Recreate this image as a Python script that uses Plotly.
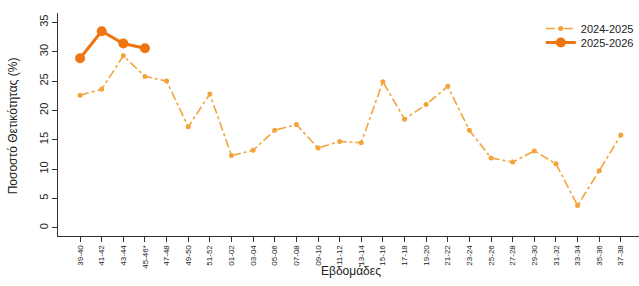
import plotly.graph_objects as go

weeks = ["39-40", "41-42", "43-44", "45-46*", "47-48", "49-50", "51-52", "01-02", "03-04",
         "05-06", "07-08", "09-10", "11-12", "13-14", "15-16", "17-18", "19-20", "21-22",
         "23-24", "25-26", "27-28", "29-30", "31-32", "33-34", "35-36", "37-38"]
s2024 = [22.6, 23.6, 29.3, 25.8, 25.0, 17.2, 22.8, 12.3, 13.2, 16.6, 17.6, 13.6, 14.7,
         14.5, 24.9, 18.5, 21.0, 24.1, 16.6, 11.9, 11.2, 13.1, 10.9, 3.8, 9.7, 15.8]
s2025 = [28.9, 33.5, 31.4, 30.6]
yticks = [0, 5, 10, 15, 20, 25, 30, 35]

xi = list(range(len(weeks)))

fig = go.Figure()
fig.add_trace(go.Scatter(
    x=xi, y=s2024, name="2024-2025", mode="lines+markers", legend="legend",
    line=dict(color="#F2A43A", width=1.6, dash="dashdot"),
    marker=dict(color="#F2A43A", size=5)))
fig.add_trace(go.Scatter(
    x=xi[:len(s2025)], y=s2025, name="2025-2026", mode="lines+markers", legend="legend2",
    line=dict(color="#F07410", width=3),
    marker=dict(color="#F07410", size=10)))

leg_common = dict(xanchor="left", yanchor="top", bgcolor="rgba(0,0,0,0)",
                  font=dict(size=11, color="#222"), itemwidth=30)

fig.update_layout(
    width=639, height=286,
    margin=dict(l=58, r=0, t=13, b=50),
    paper_bgcolor="white", plot_bgcolor="white",
    font=dict(family="Liberation Sans, Arial, sans-serif", color="#222"),
    showlegend=True,
    legend=dict(x=0.831, y=0.9955, **leg_common),
    legend2=dict(x=0.831, y=0.9327, **leg_common),
    xaxis=dict(range=[-1.02, 25.84], tickmode="array", tickvals=xi, ticktext=weeks,
               tickangle=-90, tickfont=dict(size=8), ticks="outside", ticklen=5,
               tickcolor="#333", showline=True, linecolor="#333", linewidth=1,
               showgrid=False, zeroline=False),
    yaxis=dict(range=[-1.4, 36.6], tickmode="array", tickvals=yticks,
               ticktext=[str(v) for v in yticks], tickangle=-90,
               tickfont=dict(size=11), ticks="outside", ticklen=5, tickcolor="#333",
               showline=True, linecolor="#333", linewidth=1, showgrid=False,
               zeroline=False),
    annotations=[
        dict(text="Εβδομάδες", xref="paper", yref="paper", x=0.504, y=-0.158,
             showarrow=False, font=dict(size=12), xanchor="center", yanchor="middle"),
        dict(text="Ποσοστό Θετικότητας (%)", xref="paper", yref="paper", x=-0.077, y=0.493,
             showarrow=False, font=dict(size=12), textangle=-90,
             xanchor="center", yanchor="middle"),
    ],
)

fig.write_html("out.html")
